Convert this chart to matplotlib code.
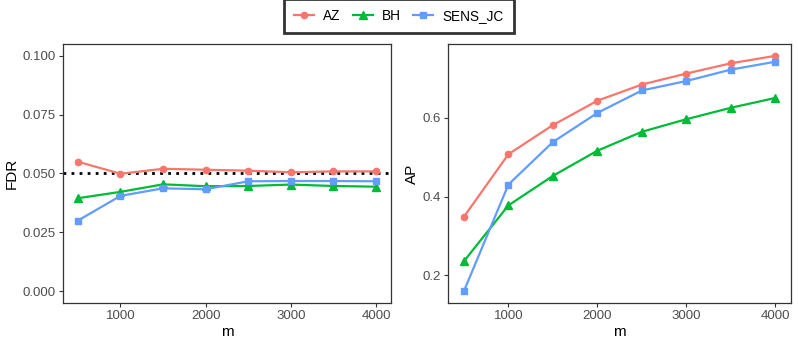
import matplotlib
matplotlib.use("Agg")
import matplotlib.pyplot as plt

m_values = [500, 1000, 1500, 2000, 2500, 3000, 3500, 4000]
methods = ["AZ", "BH", "SENS_JC"]
fdr_az = [0.0550, 0.0499, 0.0520, 0.0516, 0.0512, 0.0505, 0.0509, 0.0509]
fdr_bh = [0.0395, 0.0422, 0.0454, 0.0446, 0.0447, 0.0453, 0.0447, 0.0444]
fdr_sens = [0.0300, 0.0405, 0.0437, 0.0433, 0.0467, 0.0468, 0.0468, 0.0467]
ap_az = [0.349, 0.508, 0.582, 0.644, 0.685, 0.713, 0.739, 0.758]
ap_bh = [0.236, 0.378, 0.453, 0.517, 0.565, 0.597, 0.626, 0.651]
ap_sens = [0.160, 0.431, 0.539, 0.613, 0.670, 0.694, 0.723, 0.743]
fdr_level = 0.05
fdr_ticks = [0.000, 0.025, 0.050, 0.075, 0.100]
ap_ticks = [0.2, 0.4, 0.6]
x_ticks = [1000, 2000, 3000, 4000]

colors = ["#F8766D", "#00BA38", "#619CFF"]
markers = ["o", "^", "s"]
msizes = [4.5, 5.4, 4.5]

plt.rcParams["font.family"] = ["Liberation Sans", "DejaVu Sans"]

fig = plt.figure(figsize=(7.98, 3.47), dpi=100)
ax1 = fig.add_axes([0.0789, 0.1268, 0.411, 0.7464])
ax2 = fig.add_axes([0.5618, 0.1268, 0.4295, 0.7464])

handles = []
for ax, series, ylabel, yticks in [
    (ax1, [fdr_az, fdr_bh, fdr_sens], "FDR", fdr_ticks),
    (ax2, [ap_az, ap_bh, ap_sens], "AP", ap_ticks),
]:
    if ax is ax1:
        ax.axhline(fdr_level, color="black", linestyle=(0, (1, 1.9)), linewidth=2.0, zorder=1)
    for vals, c, mk, ms, name in zip(series, colors, markers, msizes, methods):
        h, = ax.plot(m_values, vals, color=c, marker=mk, markersize=ms,
                     linewidth=1.6, label=name, zorder=3)
        if ax is ax1:
            handles.append(h)
    ax.set_xlim(325, 4175)
    ax.set_xticks(x_ticks)
    ax.set_yticks(yticks)
    ax.set_xlabel("m", fontsize=11, labelpad=2.5)
    ax.set_ylabel(ylabel, fontsize=11, labelpad=3)
    ax.tick_params(labelsize=9.5, colors="#333333", labelcolor="#4D4D4D", length=3, width=0.8, pad=2)
    for s in ax.spines.values():
        s.set_color("#333333")
        s.set_linewidth(0.9)

ax1.set_ylim(-0.005, 0.105)
ax1.yaxis.set_major_formatter(matplotlib.ticker.FormatStrFormatter("%.3f"))
ax2.set_ylim(0.130, 0.788)
ax2.yaxis.set_major_formatter(matplotlib.ticker.FormatStrFormatter("%.1f"))

leg = fig.legend(handles=handles, loc="upper center", bbox_to_anchor=(0.5, 1.003), ncol=3,
                 fontsize=9.8, frameon=True, fancybox=False, handlelength=1.45,
                 handletextpad=0.7, columnspacing=0.9, borderpad=0.75, borderaxespad=0.0)
leg.get_frame().set_edgecolor("black")
leg.get_frame().set_linewidth(2.0)

fig.savefig("out.png", dpi=100)
